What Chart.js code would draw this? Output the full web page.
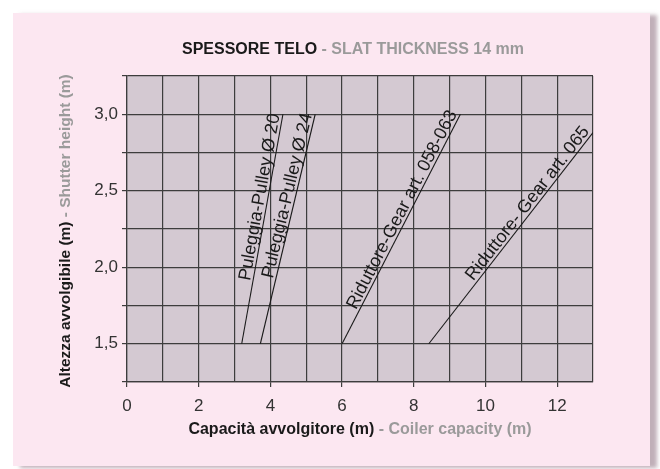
<!DOCTYPE html>
<html>
<head>
<meta charset="utf-8">
<script src="https://cdn.jsdelivr.net/npm/chart.js@4/dist/chart.umd.min.js"></script>
<style>
  html, body { margin: 0; padding: 0; background: #fff; }
  #wrap { position: relative; width: 660px; height: 469px; overflow: hidden; }
  #panel {
    position: absolute; left: 13px; top: 13px; width: 637px; height: 453px;
    background: #fce7f1;
    box-shadow: 7px 2px 4px rgba(140, 110, 125, 0.55);
  }
  #chart { position: absolute; left: 0; top: 0; }
</style>
</head>
<body>
<div id="wrap">
  <div id="panel"></div>
  <canvas id="chart" width="660" height="469"></canvas>
</div>
<script>
/* Spessore telo 14 mm — capacità avvolgitore */

// ─── Data ───
const heights = [1.5, 3.0];                 // shutter height (m), same start/end for most lines
const pulley20 = [3.2, 4.35];               // coiler capacity (m)
const pulley24 = [3.72, 5.25];
const gear058 = [6.0, 9.3];
const gear065 = [8.42, 13.0];
const gear065Heights = [1.5, 2.88];          // runs off the right edge

const lineLabels = [
  'Puleggia-Pulley Ø 20',
  'Puleggia-Pulley Ø 24',
  'Riduttore-Gear art. 058-063',
  'Riduttore- Gear art. 065',
];

const xLabelValues = [0, 2, 4, 6, 8, 10, 12];
const yLabelValues = [1.5, 2.0, 2.5, 3.0];

// ─── Style ───
const FONT = '"Liberation Sans", Arial, Helvetica, sans-serif';
const INK = '#1a1a1a';
const GRID = '#3d3d3d';
const GREY = '#9a9a9a';
const PLOT_BG = '#d4c9d2';

const pts = (xs, ys) => xs.map((x, i) => ({ x, y: ys[i] }));

const series = [
  pts(pulley20, heights),
  pts(pulley24, heights),
  pts(gear058, heights),
  pts(gear065, gear065Heights),
];

// ─── Plugins ───
const plotBg = {
  id: 'plotBg',
  beforeDraw(chart) {
    const { ctx, chartArea: a } = chart;
    ctx.save();
    ctx.fillStyle = PLOT_BG;
    ctx.fillRect(a.left, a.top, a.right - a.left, a.bottom - a.top);
    ctx.restore();
  },
};

function twoTone(ctx, dark, light, x, y) {
  const w1 = ctx.measureText(dark).width;
  const w2 = ctx.measureText(light).width;
  let start = x - (w1 + w2) / 2;
  ctx.textAlign = 'left';
  ctx.fillStyle = INK;
  ctx.fillText(dark, start, y);
  ctx.fillStyle = GREY;
  ctx.fillText(light, start + w1, y);
}

const texts = {
  id: 'texts',
  afterDraw(chart) {
    const { ctx, chartArea: a } = chart;
    const cx = (a.left + a.right) / 2;
    ctx.save();
    ctx.textBaseline = 'middle';

    ctx.font = `bold 16px ${FONT}`;
    twoTone(ctx, 'SPESSORE TELO', ' - SLAT THICKNESS 14 mm', cx - 7, a.top - 26);
    twoTone(ctx, 'Capacità avvolgitore (m)', ' - Coiler capacity (m)', cx, 430);

    ctx.font = `bold 15.5px ${FONT}`;
    ctx.translate(66, (a.top + a.bottom) / 2 + 2);
    ctx.rotate(-Math.PI / 2);
    twoTone(ctx, 'Altezza avvolgibile (m)', ' - Shutter height (m)', 0, 0);
    ctx.restore();

    // labels along each line, ending at its upper point
    ctx.save();
    ctx.font = `18px ${FONT}`;
    ctx.fillStyle = INK;
    ctx.textAlign = 'right';
    ctx.textBaseline = 'alphabetic';
    chart.data.datasets.forEach((ds, i) => {
      const pts = chart.getDatasetMeta(i).data;
      const p0 = pts[0];
      const p1 = pts[pts.length - 1];
      const ang = Math.atan2(p1.y - p0.y, p1.x - p0.x);
      ctx.save();
      ctx.translate(p1.x, p1.y);
      ctx.rotate(ang);
      ctx.fillText(lineLabels[i], -1, -3);
      ctx.restore();
    });
    ctx.restore();
  },
};

// ─── Chart ───
const fmt = (v) => v.toFixed(1).replace('.', ',');

new Chart(document.getElementById('chart'), {
  type: 'scatter',
  data: {
    datasets: series.map((data, i) => ({
      label: lineLabels[i],
      data,
      showLine: true,
      borderColor: INK,
      borderWidth: 1.1,
      pointRadius: 0,
      fill: false,
    })),
  },
  options: {
    responsive: false,
    animation: false,
    layout: { padding: { left: 0, top: 76, right: 67, bottom: 0 } },
    plugins: {
      legend: { display: false },
      tooltip: { enabled: false },
      title: { display: false },
    },
    scales: {
      x: {
        type: 'linear',
        min: 0,
        max: 13,
        afterFit: (s) => { s.height = 87; },
        ticks: {
          stepSize: 1,
          autoSkip: false,
          maxRotation: 0,
          padding: 9,
          color: '#333',
          font: { family: FONT, size: 17 },
          callback: (v) => (xLabelValues.includes(v) ? String(v) : ''),
        },
        grid: {
          color: GRID,
          lineWidth: 1.2,
          tickLength: 5,
          tickColor: (c) => (xLabelValues.includes(c.tick.value) ? GRID : 'rgba(0,0,0,0)'),
        },
        border: { color: GRID, width: 1.2 },
      },
      y: {
        type: 'linear',
        min: 1.25,
        max: 3.25,
        afterFit: (s) => { s.width = 127; },
        ticks: {
          stepSize: 0.25,
          autoSkip: false,
          padding: 4,
          color: '#333',
          font: { family: FONT, size: 17 },
          callback: (v) => (yLabelValues.includes(v) ? fmt(v) : ''),
        },
        grid: {
          color: GRID,
          lineWidth: 1.2,
          tickLength: 5,
          tickColor: GRID,
        },
        border: { color: GRID, width: 1.2 },
      },
    },
  },
  plugins: [plotBg, texts],
});
</script>
</body>
</html>
